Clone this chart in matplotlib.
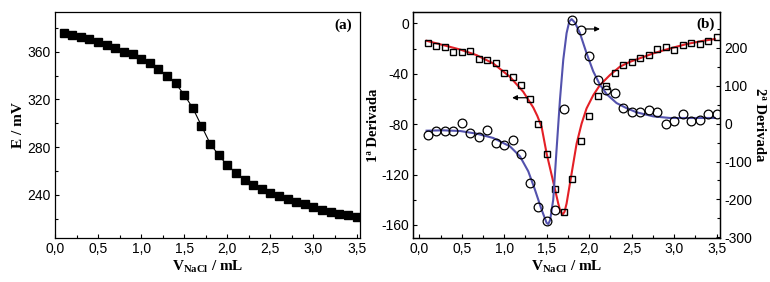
import matplotlib.pyplot as plt
from matplotlib.ticker import MultipleLocator, FixedLocator, FixedFormatter

plt.rcParams['font.family'] = ['Liberation Sans', 'DejaVu Sans']
plt.rcParams['axes.unicode_minus'] = False
plt.rcParams['mathtext.fontset'] = 'custom'
plt.rcParams['mathtext.rm'] = 'Liberation Serif:bold'
plt.rcParams['mathtext.bf'] = 'Liberation Serif:bold'

# titration volume (mL)
volume = [0.1, 0.2, 0.3, 0.4, 0.5, 0.6, 0.7, 0.8, 0.9, 1.0,
          1.1, 1.2, 1.3, 1.4, 1.5, 1.6, 1.7, 1.8, 1.9, 2.0,
          2.1, 2.2, 2.3, 2.4, 2.5, 2.6, 2.7, 2.8, 2.9, 3.0,
          3.1, 3.2, 3.3, 3.4, 3.5]

# (a) potential E / mV
potential = [376.0, 374.3, 372.3, 370.3, 367.8, 365.9, 363.4, 360.0, 357.8, 354.1,
             350.2, 345.5, 339.9, 333.4, 323.9, 312.7, 297.9, 283.1, 273.3, 264.9,
             258.5, 252.9, 248.7, 245.0, 242.0, 239.2, 236.4, 234.1, 232.2, 230.0,
             227.7, 226.0, 224.4, 223.0, 221.5]

# (b) first derivative (left axis)
deriv1 = [-15.4, -18.0, -19.1, -22.3, -23.0, -21.7, -28.1, -29.1, -31.3, -39.2,
          -42.9, -48.5, -59.9, -80.0, -103.3, -131.4, -149.7, -123.2, -93.5, -73.4,
          -57.7, -49.8, -39.2, -33.4, -31.0, -27.8, -25.2, -20.7, -18.8, -21.2,
          -17.5, -15.9, -16.4, -13.8, -10.9]

# (b) second derivative (right axis)
deriv2 = [-30.8, -19.4, -19.4, -19.4, 1.8, -24.6, -36.0, -15.8, -51.9, -56.3,
          -44.0, -80.9, -156.6, -219.9, -257.7, -226.9, 39.6, 274.4, 248.0, 177.7,
          116.1, 89.7, 80.9, 41.3, 29.9, 29.9, 35.2, 30.8, 0.0, 7.0,
          25.5, 7.0, 8.8, 25.5, 25.5]

# fitted curves
fit1_x = [0.086, 0.282, 0.479, 0.675, 0.871, 1.067, 1.224, 1.342, 1.39, 1.44,
          1.499, 1.577, 1.636, 1.66, 1.687, 1.71, 1.734, 1.793, 1.852, 1.911,
          1.969, 2.048, 2.126, 2.244, 2.361, 2.479, 2.558, 2.754, 2.95, 3.146,
          3.342, 3.48]
fit1_y = [-13.8, -17.2, -20.7, -25.2, -31.8, -42.4, -54.3, -66.8, -73.5, -82.1,
          -103.3, -125.8, -143.0, -149.0, -151.8, -149.5, -143.0, -119.2, -95.4, -79.5,
          -67.5, -57.0, -49.0, -41.0, -34.4, -30.5, -28.6, -23.8, -19.9, -16.4,
          -13.8, -12.4]

fit2_x = [0.086, 0.282, 0.479, 0.675, 0.871, 1.067, 1.185, 1.283, 1.361, 1.44,
          1.499, 1.518, 1.54, 1.577, 1.616, 1.656, 1.695, 1.734, 1.766, 1.793,
          1.832, 1.891, 1.969, 2.048, 2.126, 2.205, 2.322, 2.44, 2.558, 2.754,
          2.95, 3.146, 3.48]
fit2_y = [-18.5, -17.6, -19.3, -26.4, -37.8, -59.8, -86.2, -125.8, -174.0, -227.0,
          -262.0, -265.0, -255.0, -200.5, -68.6, 63.3, 168.9, 239.0, 270.0, 276.0,
          267.0, 239.0, 186.0, 138.0, 103.0, 78.0, 54.5, 41.0, 30.0, 19.3,
          15.0, 15.0, 15.0]

xticks = [0.0, 0.5, 1.0, 1.5, 2.0, 2.5, 3.0, 3.5]
xtick_labels = ['0,0', '0,5', '1,0', '1,5', '2,0', '2,5', '3,0', '3,5']

RED = '#e41f26'
BLUE = '#5352ad'
serif = ['Liberation Serif', 'DejaVu Serif']
xlabel = r'$\mathbf{V}_{\mathbf{NaCl}}$ / mL'

fig = plt.figure(figsize=(7.7, 2.82), dpi=100)
ax_a = fig.add_axes([55 / 770, 1 - 238.3 / 282, 305 / 770, 226.6 / 282])
ax_b = fig.add_axes([413 / 770, 1 - 238.3 / 282, 307 / 770, 226.6 / 282])


def style(ax):
    ax.tick_params(which='both', direction='in', labelsize=10, width=0.8, pad=3)
    ax.tick_params(which='major', length=3)
    ax.tick_params(which='minor', length=2)
    for s in ax.spines.values():
        s.set_linewidth(0.9)


# ---- panel (a) ----
ax_a.plot(volume, potential, color='k', lw=0.8, marker='s', ms=5.2, mfc='k', mec='k')
ax_a.set_xlim(0.0, 3.54)
ax_a.set_ylim(203.7, 393.5)
ax_a.xaxis.set_major_locator(FixedLocator(xticks))
ax_a.xaxis.set_major_formatter(FixedFormatter(xtick_labels))
ax_a.xaxis.set_minor_locator(MultipleLocator(0.25))
ax_a.yaxis.set_major_locator(MultipleLocator(40))
ax_a.yaxis.set_minor_locator(MultipleLocator(20))
style(ax_a)
ax_a.set_ylabel('E / mV', family=serif, fontweight='bold', fontsize=11, labelpad=2)
ax_a.set_xlabel(xlabel, family=serif, fontweight='bold', fontsize=11, labelpad=1)
ax_a.text(0.944, 0.94, '(a)', transform=ax_a.transAxes, ha='center', va='center',
          family=serif, fontweight='bold', fontsize=11)

# ---- panel (b) ----
ax_b.plot(fit1_x, fit1_y, color=RED, lw=1.5, zorder=2)
ax_b.plot(volume, deriv1, ls='none', marker='s', ms=5, mfc='none', mec='k', mew=1, zorder=3)
ax_b.set_xlim(-0.074, 3.54)
ax_b.set_ylim(-170.6, 9.3)
ax_b.xaxis.set_major_locator(FixedLocator(xticks))
ax_b.xaxis.set_major_formatter(FixedFormatter(xtick_labels))
ax_b.xaxis.set_minor_locator(MultipleLocator(0.25))
ax_b.yaxis.set_major_locator(MultipleLocator(40))
ax_b.yaxis.set_minor_locator(MultipleLocator(20))
style(ax_b)
ax_b.set_ylabel('1ª Derivada', family=serif, fontweight='bold', fontsize=10.5, labelpad=1)
ax_b.set_xlabel(xlabel, family=serif, fontweight='bold', fontsize=11, labelpad=1)
ax_b.annotate('', xy=(1.06, -59), xytext=(1.31, -59),
              arrowprops=dict(arrowstyle='-|>', color='k', lw=0.9, mutation_scale=7))

ax_c = ax_b.twinx()
ax_c.plot(fit2_x, fit2_y, color=BLUE, lw=1.5, zorder=2)
ax_c.plot(volume, deriv2, ls='none', marker='o', ms=6.3, mfc='none', mec='k', mew=0.9, zorder=3)
ax_c.set_ylim(-302.6, 295.6)
ax_c.yaxis.set_major_locator(MultipleLocator(100))
ax_c.yaxis.set_minor_locator(MultipleLocator(50))
style(ax_c)
ax_c.set_ylabel('2ª Derivada', family=serif, fontweight='bold', fontsize=10.5,
                rotation=270, va='center', ha='center')
ax_c.yaxis.set_label_coords(1.13, 0.5)
ax_c.annotate('', xy=(2.16, 250), xytext=(1.92, 250),
              arrowprops=dict(arrowstyle='-|>', color='k', lw=0.9, mutation_scale=7))
ax_c.text(0.954, 0.945, '(b)', transform=ax_c.transAxes, ha='center', va='center',
          family=serif, fontweight='bold', fontsize=11)

fig.savefig('out.png', dpi=100)
